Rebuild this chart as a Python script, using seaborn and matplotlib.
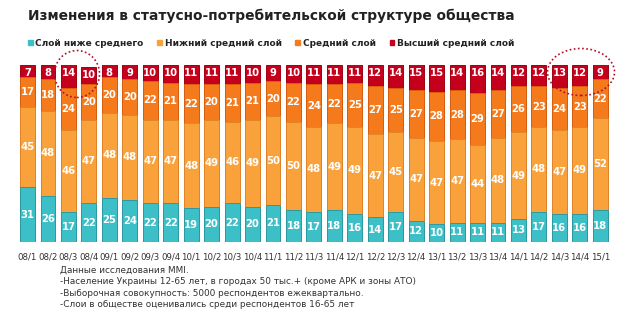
import numpy as np
import pandas as pd
import seaborn as sns
import matplotlib
matplotlib.use("Agg")
import matplotlib.pyplot as plt
from matplotlib.patches import Patch, Ellipse

periods = ["08/1", "08/2", "08/3", "08/4", "09/1", "09/2", "09/3", "09/4",
           "10/1", "10/2", "10/3", "10/4", "11/1", "11/2", "11/3", "11/4",
           "12/1", "12/2", "12/3", "12/4", "13/1", "13/2", "13/3", "13/4",
           "14/1", "14/2", "14/3", "14/4", "15/1"]
below_middle = [31, 26, 17, 22, 25, 24, 22, 22, 19, 20, 22, 20, 21, 18, 17, 18,
                16, 14, 17, 12, 10, 11, 11, 11, 13, 17, 16, 16, 18]
lower_middle = [45, 48, 46, 47, 48, 48, 47, 47, 48, 49, 46, 49, 50, 50, 48, 49,
                49, 47, 45, 47, 47, 47, 44, 48, 49, 48, 47, 49, 52]
middle = [17, 18, 24, 20, 20, 20, 22, 21, 22, 20, 21, 21, 20, 22, 24, 22,
          25, 27, 25, 27, 28, 28, 29, 27, 26, 23, 24, 23, 22]
upper_middle = [7, 8, 14, 10, 8, 9, 10, 10, 11, 11, 11, 10, 9, 10, 11, 11,
                11, 12, 14, 15, 15, 14, 16, 14, 12, 12, 13, 12, 9]

series_names = ["Слой ниже среднего", "Нижний средний слой", "Средний слой", "Высший средний слой"]
colors = ["#3DBFC7", "#F9A23C", "#F47A1C", "#C5001C"]
edges = ["#2A9AA3", "#E0852A", "#D8600E", "#9E0014"]

title = "Изменения в статусно-потребительской структуре общества"
notes = ["Данные исследования MMI.",
         "-Население Украины 12-65 лет, в городах 50 тыс.+ (кроме АРК и зоны АТО)",
         "-Выборочная совокупность: 5000 респондентов ежеквартально.",
         "-Слои в обществе оценивались среди респондентов 16-65 лет"]

sns.set_theme(style="white")
plt.rcParams['font.family'] = ['DejaVu Sans']

layers = [below_middle, lower_middle, middle, upper_middle]
df = pd.DataFrame({"period": periods})
cum = np.zeros(len(periods))
cums = []
for name, vals in zip(series_names, layers):
    cum = cum + np.array(vals)
    cums.append(cum.copy())
    df[name] = cum.copy()

W, H = 620, 325
fig = plt.figure(figsize=(W / 100, H / 100), dpi=100)
ax = fig.add_axes([17.3 / W, 83 / H, 593.2 / W, 177 / H])

for i in reversed(range(4)):
    sns.barplot(data=df, x="period", y=series_names[i], color=colors[i],
                width=0.73, edgecolor=edges[i], linewidth=0.7, saturation=1,
                ax=ax, order=periods)

ax.set_ylim(0, 100)
ax.set_xlim(-0.5, len(periods) - 0.5)
ax.set_xlabel("")
ax.set_ylabel("")
ax.set_yticks([])
sns.despine(ax=ax, left=True, bottom=True)
ax.tick_params(axis="x", length=0, pad=7.5, labelsize=6.2, labelcolor="#333333")

# value labels
for j in range(len(periods)):
    prev = 0
    for i in range(4):
        top = min(cums[i][j], 100)
        val = layers[i][j]
        if i == 3:
            y = top - 4.5
        else:
            y = (prev + top) / 2
        ax.text(j, y, str(val), ha="center", va="center", color="white",
                fontsize=7.2, fontweight="bold")
        prev = top

fig.text(28 / W, 1 - 16 / H, title, fontsize=9.9, fontweight="bold",
         color="#222222", ha="left", va="center")

handles = [Patch(facecolor=c, edgecolor=c) for c in colors]
leg = fig.legend(handles, series_names, loc="center left",
                 bbox_to_anchor=(24 / W, 1 - 43 / H), ncol=4, frameon=False,
                 prop={"weight": "bold", "size": 6.5}, handlelength=0.55,
                 handleheight=0.55, handletextpad=0.3, columnspacing=1.5,
                 borderaxespad=0)
for t in leg.get_texts():
    t.set_color("#222222")

for k, line in enumerate(notes):
    fig.text(60 / W, 1 - (270 + k * 11.6) / H, line, fontsize=6.4,
             color="#333333", ha="left", va="center")

fig.patches.append(Ellipse((77 / W, 1 - 74 / H), 45 / W, 47 / H,
                           transform=fig.transFigure, fill=False,
                           edgecolor="#B0102A", linestyle=(0, (1, 1.5)), linewidth=1.2))
fig.patches.append(Ellipse((581 / W, 1 - 72 / H), 67 / W, 47 / H,
                           transform=fig.transFigure, fill=False,
                           edgecolor="#B0102A", linestyle=(0, (1, 1.5)), linewidth=1.2))

fig.savefig("out.png", dpi=100, facecolor="white")
